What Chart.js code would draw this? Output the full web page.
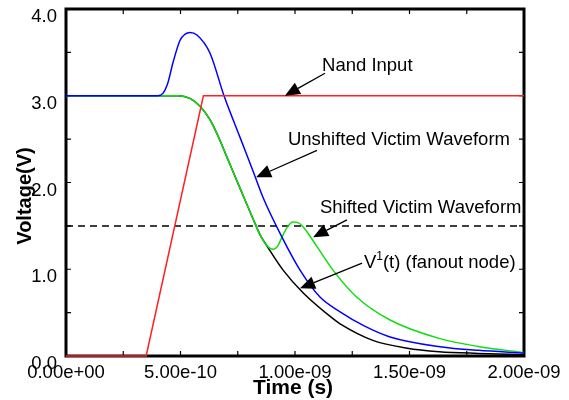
<!DOCTYPE html>
<html>
<head>
<meta charset="utf-8">
<script src="https://cdn.jsdelivr.net/npm/chart.js@4/dist/chart.umd.min.js"></script>
<style>
  html, body { margin: 0; padding: 0; background: #fff; }
  canvas { display: block; }
</style>
</head>
<body>
<canvas id="graphWave" width="569" height="400"></canvas>
<script>
// time in seconds, voltage in volts
const nandTime = [0, 0.35e-9, 0.60e-9, 2.0e-9];
const nandVolt = [0, 0, 3.0, 3.0];

const unshiftedTime = [0, 0.40e-9, 0.424e-9, 0.445e-9, 0.467e-9, 0.498e-9, 0.52e-9, 0.541e-9, 0.572e-9, 0.629e-9, 0.69e-9, 0.76e-9, 0.817e-9, 0.86e-9, 0.943e-9, 1.022e-9, 1.109e-9, 1.197e-9, 1.30e-9, 1.415e-9, 1.633e-9, 1.80e-9, 2.0e-9];
const unshiftedVolt = [3.0, 3.0, 3.03, 3.15, 3.38, 3.64, 3.71, 3.73, 3.70, 3.49, 3.0, 2.52, 2.13, 1.83, 1.37, 0.99, 0.68, 0.51, 0.35, 0.22, 0.107, 0.065, 0.035];

const shiftedTime = [0, 0.49e-9, 0.541e-9, 0.585e-9, 0.63e-9, 0.67e-9, 0.70e-9, 0.735e-9, 0.775e-9, 0.817e-9, 0.847e-9, 0.875e-9, 0.904e-9, 0.925e-9, 0.943e-9, 0.965e-9, 0.991e-9, 1.01e-9, 1.035e-9, 1.096e-9, 1.166e-9, 1.269e-9, 1.415e-9, 1.633e-9, 1.80e-9, 2.0e-9];
const shiftedVolt = [3.0, 3.0, 2.97, 2.88, 2.72, 2.50, 2.31, 2.09, 1.84, 1.58, 1.40, 1.28, 1.23, 1.27, 1.37, 1.48, 1.545, 1.54, 1.49, 1.26, 0.99, 0.68, 0.415, 0.20, 0.11, 0.04];

const fanoutTime = [0, 0.49e-9, 0.541e-9, 0.585e-9, 0.63e-9, 0.67e-9, 0.70e-9, 0.735e-9, 0.775e-9, 0.817e-9, 0.847e-9, 0.882e-9, 0.948e-9, 1.035e-9, 1.166e-9, 1.197e-9, 1.34e-9, 1.49e-9, 1.63e-9, 1.80e-9, 2.0e-9];
const fanoutVolt = [3.0, 3.0, 2.97, 2.88, 2.72, 2.50, 2.31, 2.09, 1.84, 1.58, 1.40, 1.25, 0.99, 0.73, 0.43, 0.37, 0.18, 0.09, 0.05, 0.03, 0.015];

const thresholdTime = [0, 2.0e-9];
const thresholdVolt = [1.5, 1.5];

const xTickValues = [0, 0.5e-9, 1.0e-9, 1.5e-9, 2.0e-9];
const xTickLabels = ['0.00e+00', '5.00e-10', '1.00e-09', '1.50e-09', '2.00e-09'];
const yTickValues = [0, 1, 2, 3, 4];
const yTickLabels = ['0.0', '1.0', '2.0', '3.0', '4.0'];

// labels with arrows: text start, arrow tail, arrow tip (data units)
const notes = [
  { text: 'Nand Input', tx: 1.118e-9, ty: 3.34, ax: 1.131e-9, ay: 3.26, bx: 0.956e-9, by: 3.0 },
  { text: 'Unshifted Victim Waveform', tx: 0.969e-9, ty: 2.49, ax: 1.096e-9, ay: 2.37, bx: 0.830e-9, by: 2.06 },
  { text: 'Shifted Victim Waveform', tx: 1.109e-9, ty: 1.71, ax: 1.227e-9, ay: 1.57, bx: 1.079e-9, by: 1.37 },
  { text: 'V|1|(t) (fanout node)', tx: 1.301e-9, ty: 1.07, ax: 1.293e-9, ay: 1.07, bx: 1.022e-9, by: 0.78 }
];

const FONT = '"Liberation Sans", Arial, sans-serif';

function toPoints(xs, ys) {
  return xs.map((x, i) => ({ x: x, y: ys[i] }));
}

function arrow(ctx, x0, y0, x1, y1) {
  const ang = Math.atan2(y1 - y0, x1 - x0);
  const len = 15, half = 6.5;
  ctx.beginPath();
  ctx.moveTo(x0, y0);
  ctx.lineTo(x1 - Math.cos(ang) * len, y1 - Math.sin(ang) * len);
  ctx.stroke();
  ctx.beginPath();
  ctx.moveTo(x1, y1);
  ctx.lineTo(x1 - Math.cos(ang) * len - Math.sin(ang) * half, y1 - Math.sin(ang) * len + Math.cos(ang) * half);
  ctx.lineTo(x1 - Math.cos(ang) * len + Math.sin(ang) * half, y1 - Math.sin(ang) * len - Math.cos(ang) * half);
  ctx.closePath();
  ctx.fill();
}

const framePlugin = {
  id: 'frame',
  beforeDatasetsDraw(chart) {
    const ctx = chart.ctx;
    const a = chart.chartArea;
    const xs = chart.scales.x, ys = chart.scales.y;
    ctx.save();
    ctx.strokeStyle = '#000';
    ctx.lineWidth = 1.2;
    // inward ticks on all four sides
    for (let t = 0; t <= 2.0001e-9; t += 0.25e-9) {
      const px = xs.getPixelForValue(t);
      ctx.beginPath();
      ctx.moveTo(px, a.bottom); ctx.lineTo(px, a.bottom - 5);
      ctx.moveTo(px, a.top); ctx.lineTo(px, a.top + 5);
      ctx.stroke();
    }
    for (let v = 0; v <= 4; v += 0.5) {
      const py = ys.getPixelForValue(v);
      ctx.beginPath();
      ctx.moveTo(a.left, py); ctx.lineTo(a.left + 5, py);
      ctx.moveTo(a.right, py); ctx.lineTo(a.right - 5, py);
      ctx.stroke();
    }
    ctx.lineWidth = 3;
    ctx.strokeRect(a.left, a.top, a.right - a.left, a.bottom - a.top);
    ctx.restore();
  },
  afterDraw(chart) {
    const ctx = chart.ctx;
    const a = chart.chartArea;
    const xs = chart.scales.x, ys = chart.scales.y;
    ctx.save();
    ctx.fillStyle = '#000';
    ctx.strokeStyle = '#000';
    ctx.font = '18.5px ' + FONT;
    ctx.textBaseline = 'alphabetic';
    ctx.textAlign = 'right';
    yTickValues.forEach((v, i) => {
      ctx.fillText(yTickLabels[i], a.left - 9, ys.getPixelForValue(v) + 13);
    });
    ctx.textAlign = 'center';
    xTickValues.forEach((t, i) => {
      ctx.fillText(xTickLabels[i], xs.getPixelForValue(t), a.bottom + 22);
    });

    ctx.font = 'bold 21px ' + FONT;
    ctx.fillText('Time (s)', (a.left + a.right) / 2 - 2, 394);
    ctx.font = 'bold 20px ' + FONT;
    ctx.save();
    ctx.translate(31, 196);
    ctx.rotate(-Math.PI / 2);
    ctx.fillText('Voltage(V)', 0, 0);
    ctx.restore();

    ctx.font = '18.5px ' + FONT;
    ctx.textAlign = 'left';
    ctx.textBaseline = 'middle';
    ctx.lineWidth = 1.3;
    notes.forEach(n => {
      let x = xs.getPixelForValue(n.tx);
      const y = ys.getPixelForValue(n.ty);
      const parts = n.text.split('|');
      parts.forEach((p, k) => {
        if (k % 2 === 1) {
          ctx.font = '12px ' + FONT;
          ctx.fillText(p, x, y - 6);
          x += ctx.measureText(p).width;
          ctx.font = '18.5px ' + FONT;
        } else {
          ctx.fillText(p, x, y);
          x += ctx.measureText(p).width;
        }
      });
      arrow(ctx, xs.getPixelForValue(n.ax), ys.getPixelForValue(n.ay),
            xs.getPixelForValue(n.bx), ys.getPixelForValue(n.by));
    });
    ctx.restore();
  }
};

const waveChart = new Chart(document.getElementById('graphWave'), {
  type: 'scatter',
  data: {
    datasets: [{
      label: 'Nand Input',
      data: toPoints(nandTime, nandVolt),
      borderColor: '#ff2020',
      borderWidth: 1.5,
      tension: 0,
      order: 0
    }, {
      label: 'Unshifted Victim Waveform',
      data: toPoints(unshiftedTime, unshiftedVolt),
      borderColor: '#0000ff',
      borderWidth: 1.5,
      cubicInterpolationMode: 'monotone',
      order: 1
    }, {
      label: 'Shifted Victim Waveform',
      data: toPoints(shiftedTime, shiftedVolt),
      borderColor: '#11dd11',
      borderWidth: 1.5,
      cubicInterpolationMode: 'monotone',
      order: 2
    }, {
      label: 'V1(t) (fanout node)',
      data: toPoints(fanoutTime, fanoutVolt),
      borderColor: '#000000',
      borderWidth: 1.5,
      cubicInterpolationMode: 'monotone',
      order: 3
    }, {
      label: 'Threshold',
      data: toPoints(thresholdTime, thresholdVolt),
      borderColor: '#000000',
      borderWidth: 1.5,
      borderDash: [7, 5],
      order: 4
    }]
  },
  options: {
    responsive: false,
    animation: false,
    devicePixelRatio: 1,
    showLine: true,
    clip: false,
    elements: { point: { radius: 0 } },
    layout: { padding: { left: 66, top: 9, right: 45, bottom: 44 } },
    plugins: { legend: { display: false }, tooltip: { enabled: false } },
    scales: {
      x: { type: 'linear', display: false, min: 0, max: 2.0e-9 },
      y: { type: 'linear', display: false, min: 0, max: 4.0 }
    }
  },
  plugins: [framePlugin]
});
</script>
</body>
</html>
